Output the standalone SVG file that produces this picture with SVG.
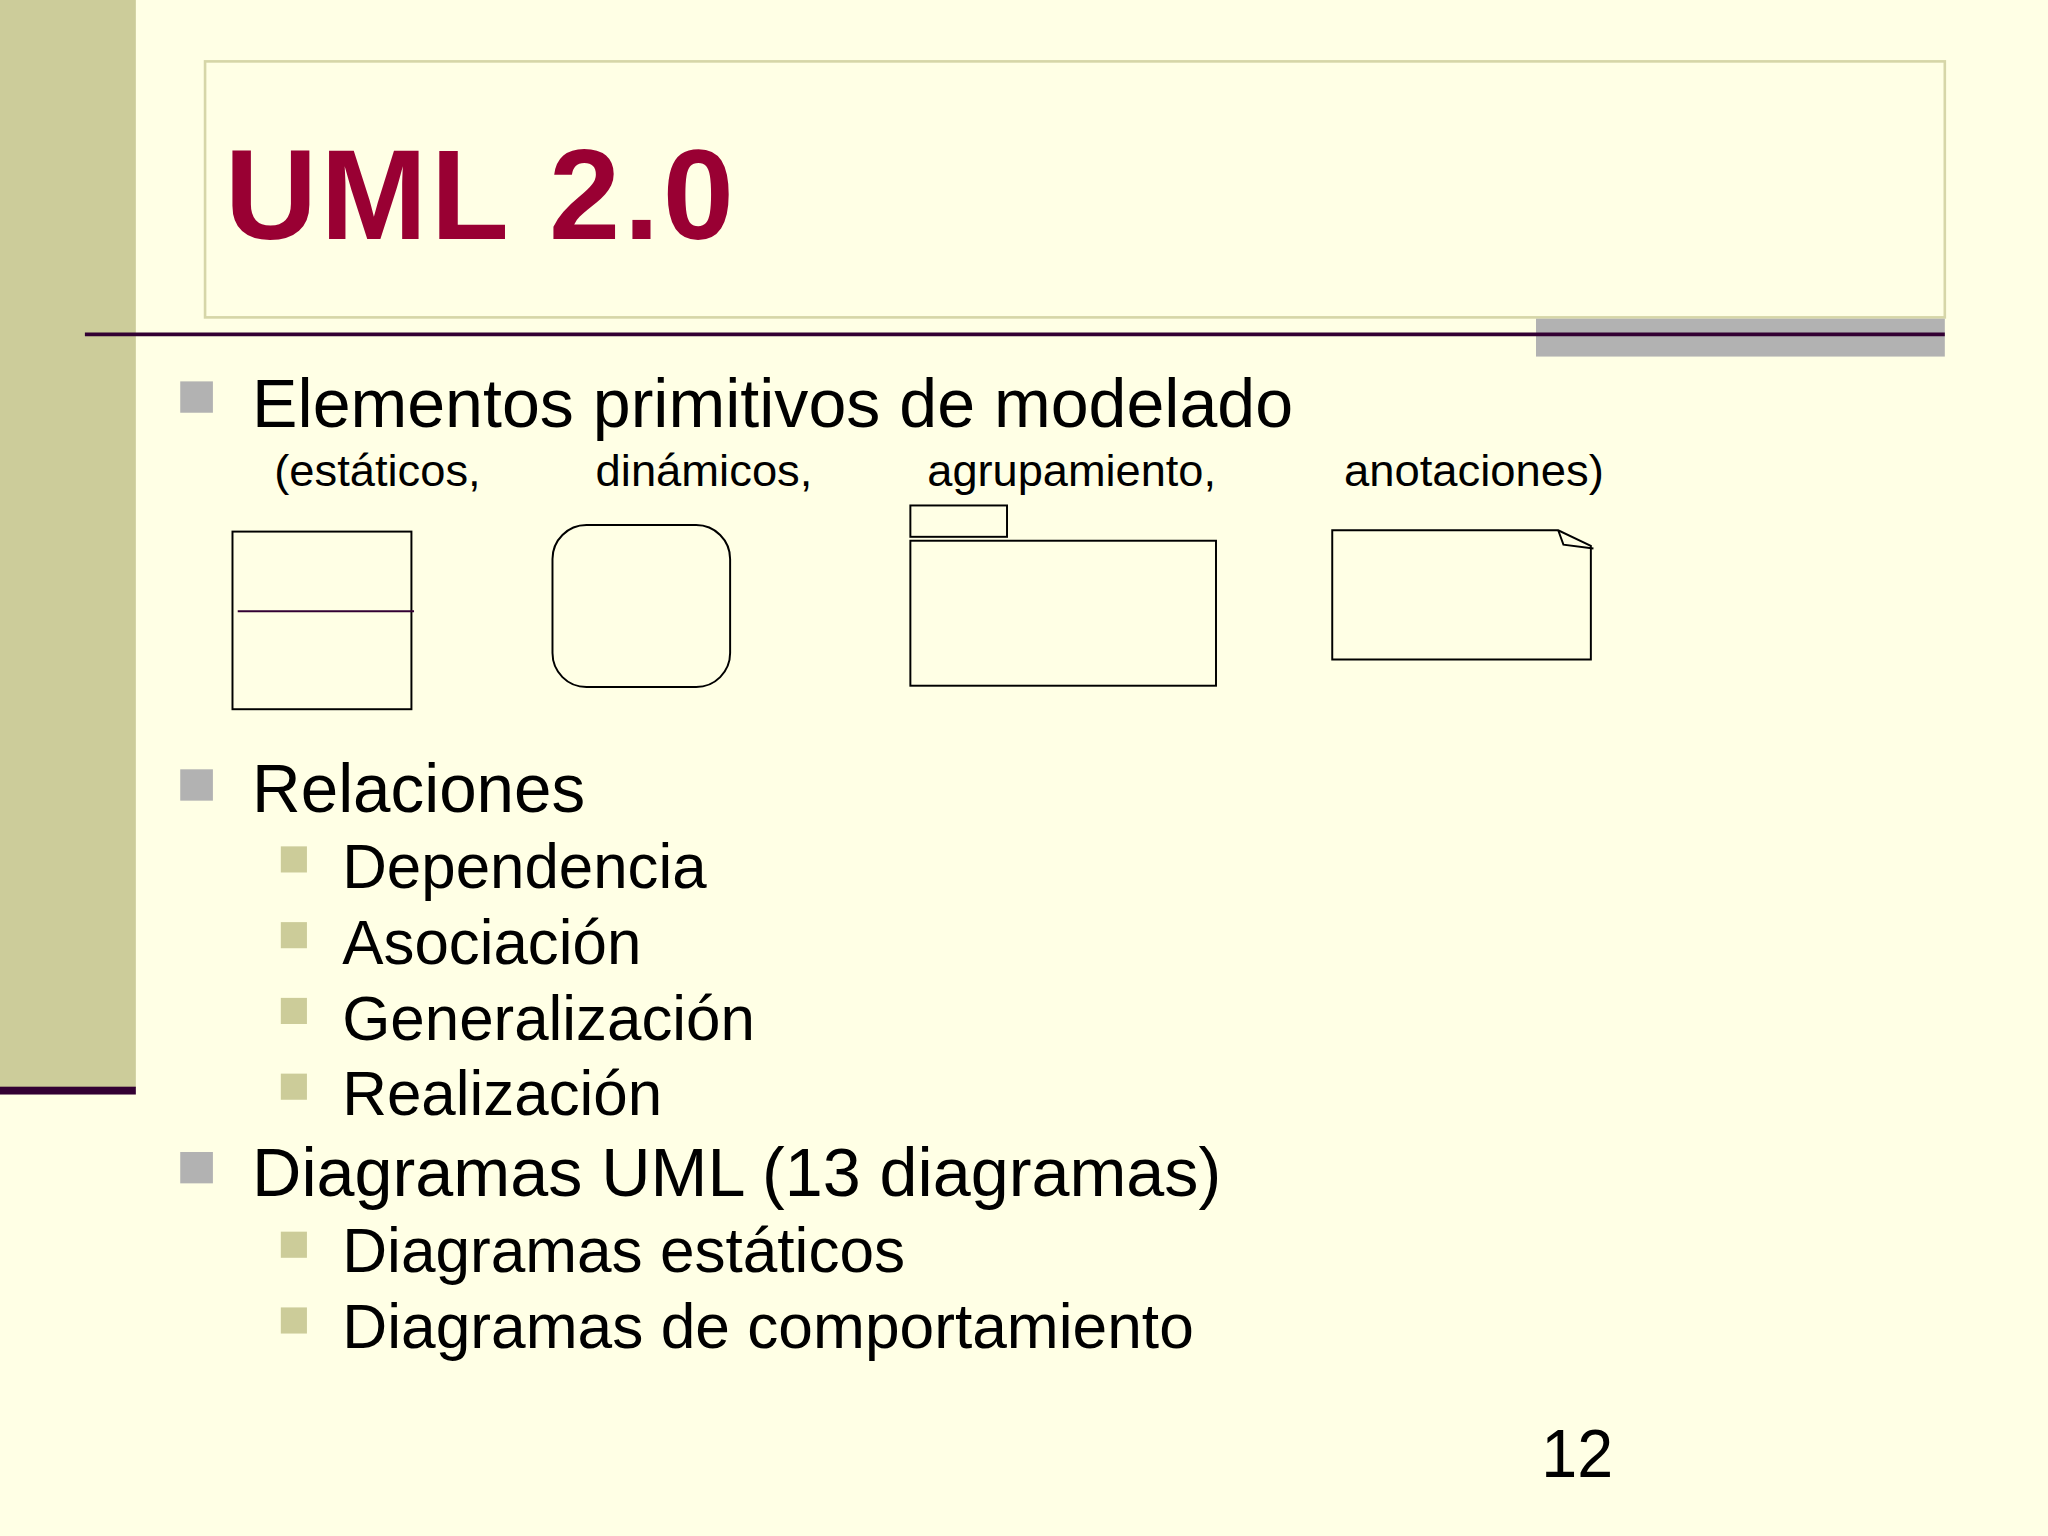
<svg xmlns="http://www.w3.org/2000/svg" width="2048" height="1536" viewBox="0 0 2048 1536">
<style>
.t{font-family:"Liberation Sans",Arial,sans-serif;fill:#000}
.b1{fill:#b2b2b2}
.b2{fill:#cccc99}
.s{fill:none;stroke:#000;stroke-width:1.5}
</style>
<rect width="2048" height="1536" fill="#ffffe5"/>
<g transform="scale(1.30612)">
<rect x="0" y="0" width="104" height="833" fill="#cccc9a"/>
<rect x="0" y="832" width="104" height="6" fill="#330033"/>
<g id="title">
<rect x="157" y="47" width="1332" height="196" fill="none" stroke="#d6d6a8" stroke-width="2"/>
<text x="172" y="183" font-size="98" font-weight="bold" fill="#990033" font-family="Liberation Sans,Arial,sans-serif" textLength="390" lengthAdjust="spacing">UML 2.0</text>
</g>
<rect x="1176" y="244" width="313" height="29" fill="#b2b2b2"/>
<line x1="65" y1="256" x2="1489" y2="256" stroke="#330033" stroke-width="3"/>
<rect class="b1" x="138" y="292" width="25" height="24"/>
<text class="t" x="193" y="327" font-size="52" textLength="797" lengthAdjust="spacingAndGlyphs">Elementos primitivos de modelado</text>
<g class="t" font-size="34">
<text x="210" y="372" textLength="158" lengthAdjust="spacingAndGlyphs">(estáticos,</text>
<text x="456" y="372" textLength="166" lengthAdjust="spacingAndGlyphs">dinámicos,</text>
<text x="710" y="372" textLength="221" lengthAdjust="spacingAndGlyphs">agrupamiento,</text>
<text x="1029" y="372" textLength="199" lengthAdjust="spacingAndGlyphs">anotaciones)</text>
</g>
<g id="clase"><rect class="s" x="178" y="407" width="137" height="136"/><line x1="182" y1="468" x2="317" y2="468" stroke="#330033" stroke-width="1.5"/></g>
<g id="estado"><rect class="s" x="423" y="402" width="136" height="124" rx="26"/></g>
<g id="paquete"><rect class="s" x="697" y="387" width="74" height="24"/><rect class="s" x="697" y="414" width="234" height="111"/></g>
<g id="nota"><polygon class="s" points="1020,406 1193,406 1218,418 1218,505 1020,505"/><polyline class="s" points="1193,406 1197,417 1220,420"/></g>
<rect class="b1" x="138" y="589" width="25" height="24"/>
<text class="t" x="193" y="622" font-size="52" textLength="255" lengthAdjust="spacingAndGlyphs">Relaciones</text>
<g class="t" font-size="48">
<rect class="b2" x="215" y="648" width="20" height="20"/><text x="262" y="680" textLength="279" lengthAdjust="spacingAndGlyphs">Dependencia</text>
<rect class="b2" x="215" y="706" width="20" height="20"/><text x="262" y="738" textLength="229" lengthAdjust="spacingAndGlyphs">Asociación</text>
<rect class="b2" x="215" y="764" width="20" height="20"/><text x="262" y="796" textLength="316" lengthAdjust="spacingAndGlyphs">Generalización</text>
<rect class="b2" x="215" y="822" width="20" height="20"/><text x="262" y="854" textLength="245" lengthAdjust="spacingAndGlyphs">Realización</text>
</g>
<rect class="b1" x="138" y="882" width="25" height="24"/>
<text class="t" x="193" y="916" font-size="52" textLength="742" lengthAdjust="spacingAndGlyphs">Diagramas UML (13 diagramas)</text>
<g class="t" font-size="48">
<rect class="b2" x="215" y="943" width="20" height="20"/><text x="262" y="974" textLength="431" lengthAdjust="spacingAndGlyphs">Diagramas estáticos</text>
<rect class="b2" x="215" y="1001" width="20" height="20"/><text x="262" y="1032" textLength="652" lengthAdjust="spacingAndGlyphs">Diagramas de comportamiento</text>
</g>
<text class="t" x="1180" y="1131" font-size="52" textLength="55" lengthAdjust="spacingAndGlyphs">12</text>
</g>
</svg>
